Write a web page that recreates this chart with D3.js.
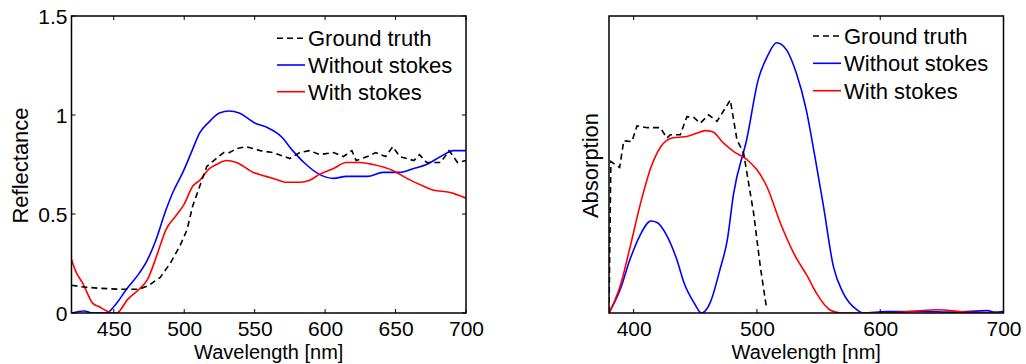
<!DOCTYPE html>
<html>
<head>
<meta charset="utf-8">
<script src="https://cdn.jsdelivr.net/npm/d3@7"></script>
<style>
  body { margin: 0; background: #fff; }
  svg text { font-family: "Liberation Sans", Arial, sans-serif; fill: #000; }
</style>
</head>
<body>
<div id="chart"></div>
<script>
// ---- left panel: reflectance ----
const reflGroundWl = [420,430,440,454,468,475,483,490,497,502,506,511,516,521,528,532,537,544,554,563,575,582,589,596,606,613,619,622,630,636,643,648,653,663,667,672,682,688,694,700];
const reflGround   = [0.14,0.13,0.125,0.12,0.12,0.14,0.18,0.25,0.34,0.42,0.54,0.64,0.74,0.77,0.81,0.81,0.83,0.84,0.82,0.81,0.78,0.81,0.82,0.80,0.81,0.79,0.82,0.77,0.79,0.81,0.79,0.84,0.79,0.77,0.80,0.76,0.76,0.82,0.76,0.77];

const reflNoStokesWl = [420,429,435,445,451,459,468,474,480,487,492,499,505,511,517,525,532,539,550,558,569,577,585,596,606,615,630,641,653,663,672,682,691,700];
const reflNoStokes   = [0.00,0.01,0,0,0.04,0.12,0.20,0.27,0.37,0.52,0.61,0.71,0.81,0.91,0.96,1.01,1.02,1.01,0.96,0.94,0.89,0.82,0.76,0.70,0.68,0.69,0.69,0.71,0.71,0.73,0.75,0.79,0.82,0.82];

const reflStokesWl = [420,423,428,435,440,445,448,452,460,468,474,481,487,494,500,506,511,518,523,530,537,549,558,563,573,582,589,596,606,615,625,634,648,658,670,677,688,700];
const reflStokes   = [0.27,0.21,0.15,0.05,0.03,0.01,0.0,0.0,0.07,0.12,0.17,0.30,0.42,0.49,0.55,0.64,0.67,0.73,0.75,0.77,0.76,0.71,0.69,0.68,0.66,0.66,0.67,0.70,0.73,0.76,0.76,0.75,0.72,0.68,0.64,0.62,0.61,0.58];

// ---- right panel: absorption (arbitrary units) ----
const absGroundWl = [380,381.5,388.6,392,398.6,402.7,411,421.6,427,429.7,437.8,443.2,448.7,454,460.8,467.6,478.4,483.8,489.2,497.3,502.7,507.6];
const absGround   = [0,0.51,0.49,0.58,0.577,0.63,0.624,0.624,0.589,0.60,0.60,0.661,0.659,0.639,0.667,0.645,0.717,0.583,0.538,0.336,0.157,0.022];

const absNoStokesWl = [380,389,397,405,414,419,427,435,441,449,455,462,470,476,481,492,501,508,516,524,532,540,547,554,562,570,581,586,605,632,660,687,692,700];
const absNoStokes   = [0,0.078,0.18,0.26,0.31,0.305,0.26,0.18,0.10,0.034,0,0.034,0.146,0.247,0.40,0.59,0.785,0.86,0.91,0.886,0.807,0.684,0.527,0.359,0.157,0.067,0.011,0,0.005,0.005,0.003,0.008,0.003,0.005];

const absStokesWl = [380,389,397,405,414,422,432,443,451,458,464,473,481,492,500,508,519,530,541,549,559,568,605,646,673,700];
const absStokes   = [0,0.09,0.22,0.36,0.49,0.56,0.59,0.594,0.605,0.614,0.61,0.572,0.544,0.516,0.482,0.426,0.303,0.20,0.123,0.062,0.011,0,0,0.011,0.002,0];

const legendLabels = ['Ground truth', 'Without stokes', 'With stokes'];
const reflYTicks = [0, 0.5, 1, 1.5];
const reflXTicks = [450, 500, 550, 600, 650, 700];
const absXTicks = [400, 500, 600, 700];

const zip = (xs, ys) => xs.map((x, i) => ({ x: x, y: ys[i] }));

const svg = d3.select('#chart')
  .append('svg')
  .attr('width', 1026)
  .attr('height', 364);

const styles = [
  { color: '#000', dash: '6,4' },
  { color: '#0000ff', dash: null },
  { color: '#ff0000', dash: null }
];

function drawPanel(cfg) {
  const x = d3.scaleLinear().domain(cfg.xDomain).range([cfg.left, cfg.right]);
  const y = d3.scaleLinear().domain(cfg.yDomain).range([313, 16]);
  const g = svg.append('g');

  g.append('clipPath').attr('id', cfg.id)
    .append('rect')
    .attr('x', cfg.left).attr('y', 16)
    .attr('width', cfg.right - cfg.left).attr('height', 297);

  // curves
  const series = [
    { data: zip(cfg.groundWl, cfg.ground), curve: d3.curveLinear },
    { data: zip(cfg.noStokesWl, cfg.noStokes), curve: d3.curveMonotoneX },
    { data: zip(cfg.stokesWl, cfg.stokes), curve: d3.curveMonotoneX }
  ];
  const order = [1, 2, 0];
  order.forEach(i => {
    const line = d3.line().x(d => x(d.x)).y(d => y(d.y)).curve(series[i].curve);
    g.append('path')
      .datum(series[i].data)
      .attr('clip-path', `url(#${cfg.id})`)
      .attr('d', line)
      .attr('fill', 'none')
      .attr('stroke', styles[i].color)
      .attr('stroke-width', 1.6)
      .attr('stroke-dasharray', styles[i].dash);
  });

  // inward ticks, MATLAB style
  const tl = 4;
  cfg.xTicks.forEach(t => {
    g.append('line').attr('x1', x(t)).attr('x2', x(t)).attr('y1', 313).attr('y2', 313 - tl)
      .attr('stroke', '#000').attr('stroke-width', 1);
    g.append('line').attr('x1', x(t)).attr('x2', x(t)).attr('y1', 16).attr('y2', 16 + tl)
      .attr('stroke', '#000').attr('stroke-width', 1);
  });
  (cfg.yTicks || []).forEach(t => {
    g.append('line').attr('x1', cfg.left).attr('x2', cfg.left + tl).attr('y1', y(t)).attr('y2', y(t))
      .attr('stroke', '#000').attr('stroke-width', 1);
    g.append('line').attr('x1', cfg.right).attr('x2', cfg.right - tl).attr('y1', y(t)).attr('y2', y(t))
      .attr('stroke', '#000').attr('stroke-width', 1);
  });

  // tick labels via d3 axes
  const xAxis = g.append('g')
    .attr('transform', 'translate(0,313)')
    .call(d3.axisBottom(x).tickValues(cfg.xTicks).tickSize(0).tickPadding(0).tickFormat(d3.format('d')));
  xAxis.select('.domain').remove();
  xAxis.selectAll('text')
    .attr('y', 23.2).attr('dy', null)
    .style('font-size', '21px')
    .style('font-family', '"Liberation Sans", Arial, sans-serif');

  if (cfg.yTicks) {
    const yAxis = g.append('g')
      .attr('transform', `translate(${cfg.left},0)`)
      .call(d3.axisLeft(y).tickValues(cfg.yTicks).tickSize(0).tickPadding(0).tickFormat(d => d));
    yAxis.select('.domain').remove();
    yAxis.selectAll('text')
      .attr('x', -4).attr('dy', '0.35em')
      .style('font-size', '21px')
      .style('font-family', '"Liberation Sans", Arial, sans-serif');
  }

  // box
  g.append('rect')
    .attr('x', cfg.left).attr('y', 16)
    .attr('width', cfg.right - cfg.left).attr('height', 297)
    .attr('fill', 'none').attr('stroke', '#000').attr('stroke-width', 1.5);

  // axis labels
  g.append('text')
    .attr('x', (cfg.left + cfg.right) / 2).attr('y', 359)
    .attr('text-anchor', 'middle')
    .style('font-size', '20px')
    .text('Wavelength [nm]');

  g.append('text')
    .attr('transform', `translate(${cfg.yLabelX},${(16 + 313) / 2 + 1}) rotate(-90)`)
    .attr('text-anchor', 'middle')
    .style('font-size', '22px')
    .text(cfg.yLabel);

  // legend
  cfg.legendY.forEach((ly, i) => {
    g.append('line')
      .attr('x1', cfg.legendX).attr('x2', cfg.legendX + 28)
      .attr('y1', ly).attr('y2', ly)
      .attr('stroke', styles[i].color).attr('stroke-width', 1.6)
      .attr('stroke-dasharray', styles[i].dash);
    g.append('text')
      .attr('x', cfg.legendX + 31).attr('y', ly + 8)
      .style('font-size', '22px')
      .text(legendLabels[i]);
  });
}

drawPanel({
  id: 'clipL', left: 71.5, right: 466,
  xDomain: [420, 700], yDomain: [0, 1.5],
  xTicks: reflXTicks, yTicks: reflYTicks,
  groundWl: reflGroundWl, ground: reflGround,
  noStokesWl: reflNoStokesWl, noStokes: reflNoStokes,
  stokesWl: reflStokesWl, stokes: reflStokes,
  yLabel: 'Reflectance', yLabelX: 28,
  legendX: 277, legendY: [38.3, 65, 91.7]
});

drawPanel({
  id: 'clipR', left: 609, right: 1003.5,
  xDomain: [380, 700], yDomain: [0, 1],
  xTicks: absXTicks, yTicks: null,
  groundWl: absGroundWl, ground: absGround,
  noStokesWl: absNoStokesWl, noStokes: absNoStokes,
  stokesWl: absStokesWl, stokes: absStokes,
  yLabel: 'Absorption', yLabelX: 598,
  legendX: 813, legendY: [36, 63.3, 90.7]
});
</script>
</body>
</html>
